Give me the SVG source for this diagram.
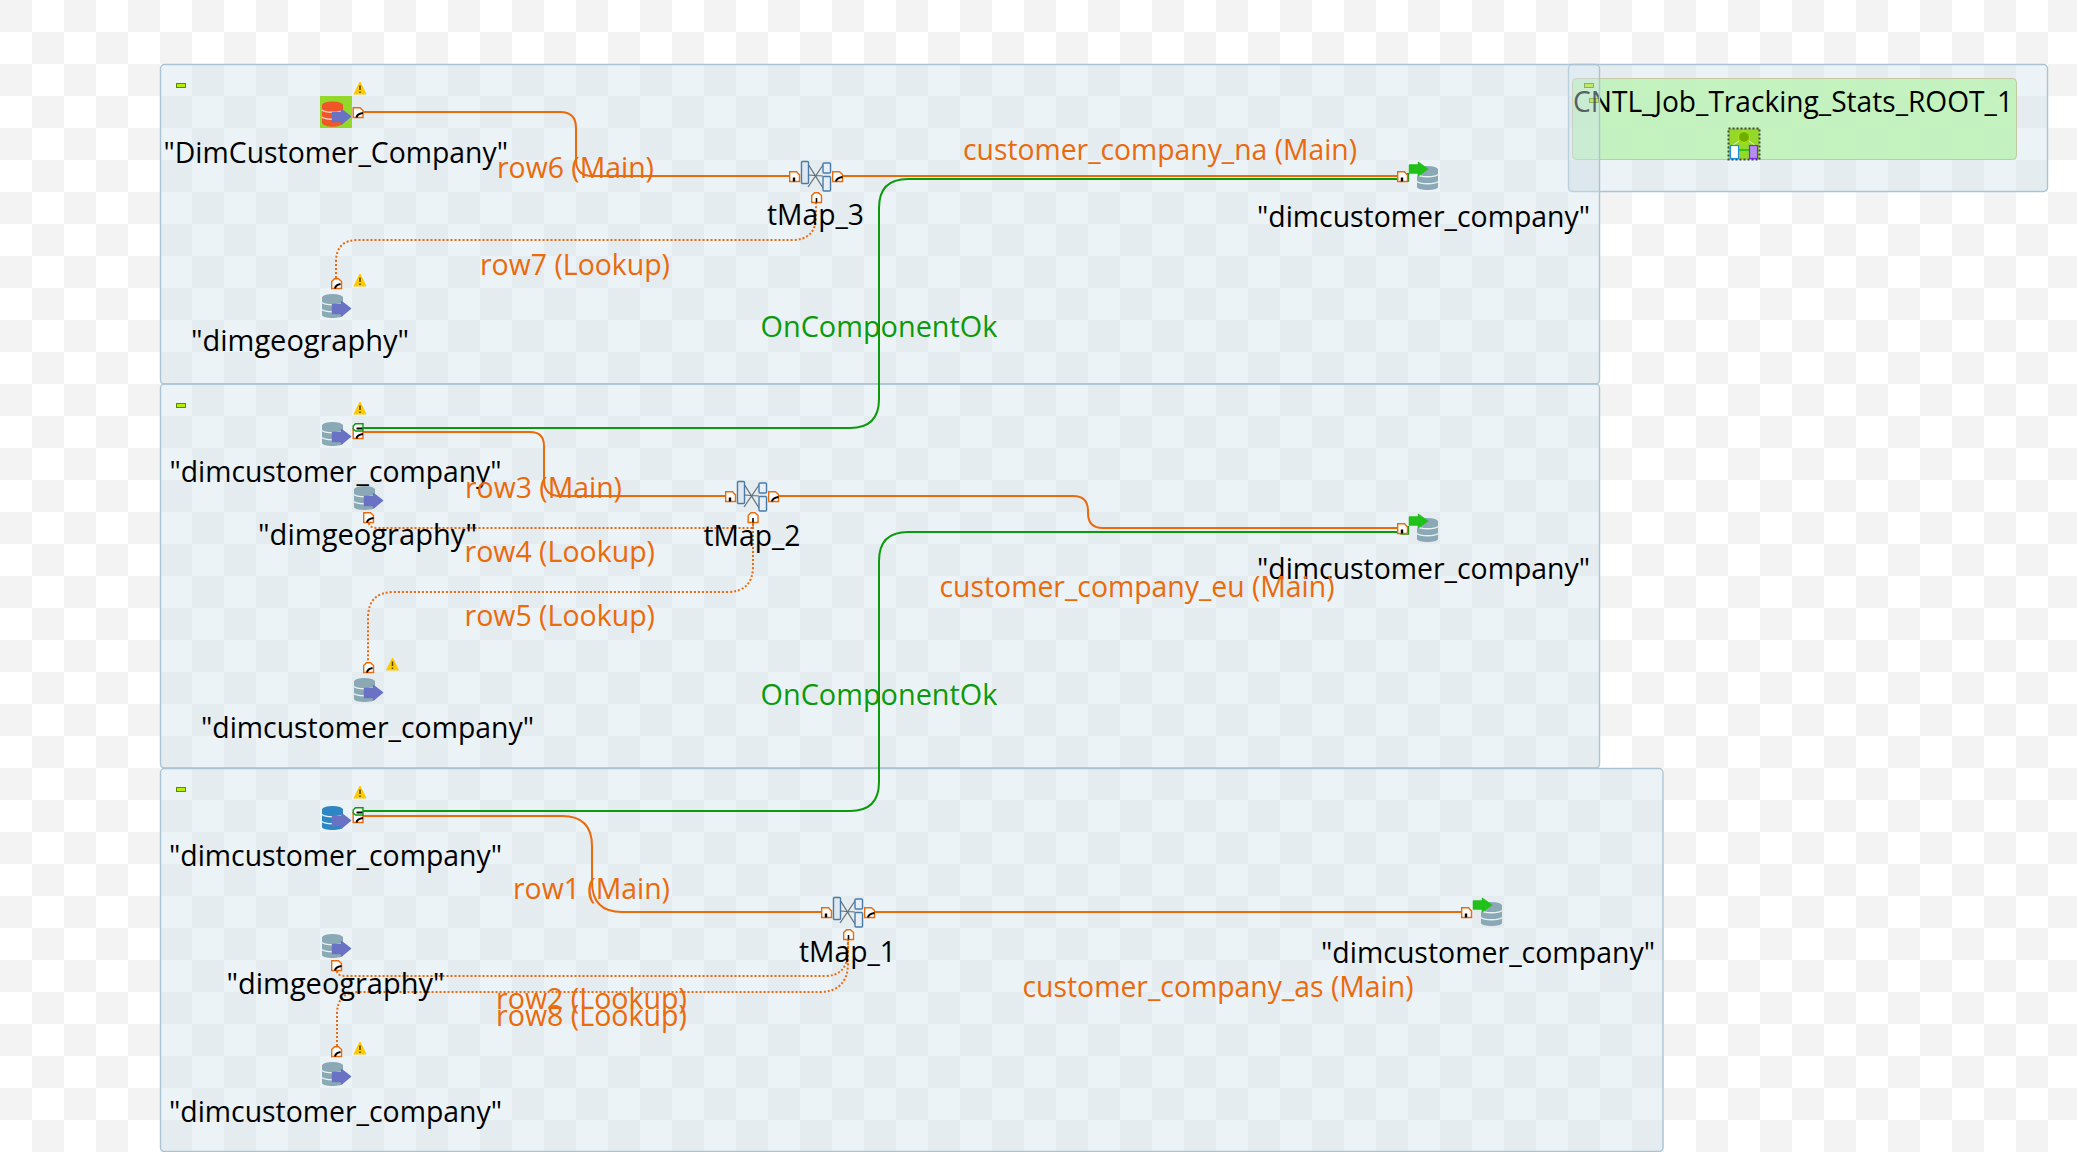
<svg xmlns="http://www.w3.org/2000/svg" width="2077" height="1152" viewBox="0 0 2077 1152">
<style>
text{font-family:"Open Sans","Noto Sans","Liberation Sans",sans-serif;font-size:30px}
.lbl{fill:#000}
.or{fill:#ea6a0c}
.gr{fill:#0b9a0b}
.panel{fill:#d2e2ec;fill-opacity:.42;stroke:#abc3d2;stroke-width:1.4}
.mini{fill:#b6ec00;stroke:#5f8a00;stroke-width:1}
.main{fill:none;stroke:#ea6a0c;stroke-width:2}
.look{fill:none;stroke:#ea6a0c;stroke-width:2;stroke-dasharray:2 2}
.ok{fill:none;stroke:#0b9a0b;stroke-width:2}
</style>
<defs>
<pattern id="chk" width="64" height="64" patternUnits="userSpaceOnUse">
<rect width="64" height="64" fill="#fff"/>
<rect width="32" height="32" fill="#f3f3f3"/>
<rect x="32" y="32" width="32" height="32" fill="#f3f3f3"/>
</pattern>
<g id="cyl">
<path d="M0 3.500C0 1 21 1 21 3.500V21C21 25 0 25 0 21Z" fill="#8ba9b5"/>
<ellipse cx="10.500" cy="3.500" rx="10.500" ry="3.500" fill="#8ba9b5"/>
<path d="M0 8.500C3 11.500 18 11.500 21 8.500M0 15.500C3 18.500 18 18.500 21 15.500" fill="none" stroke="#e8f0f3" stroke-width="1.400"/>
</g>
<g id="cylBlue">
<path d="M0 3.500C0 1 21 1 21 3.500V21C21 25 0 25 0 21Z" fill="#2f86c4"/>
<ellipse cx="10.500" cy="3.500" rx="10.500" ry="3.500" fill="#2f86c4"/>
<path d="M0 8.500C3 11.500 18 11.500 21 8.500M0 15.500C3 18.500 18 18.500 21 15.500" fill="none" stroke="#e8f0f3" stroke-width="1.400"/>
</g>
<path id="arrIn" d="M12.500 16.500H21.500V13.500L30.500 20.500L21.500 28V25.500H12.500Z" fill="#6a72c4" stroke="#6a72c4" stroke-width="1.500" stroke-linejoin="round"/>
<g id="dbIn"><use href="#cyl" x="2" y="6"/><use href="#arrIn"/></g>
<g id="dbInBlue"><use href="#cylBlue" x="2" y="6"/><use href="#arrIn"/></g>
<g id="dbOut"><use href="#cyl" x="9" y="6"/><path d="M1.500 5H10.500V2.500L19.500 9L10.500 15.500V13H1.500Z" fill="#22c01a" stroke="#22c01a" stroke-width="1.500" stroke-linejoin="round"/></g>
<g id="warn"><path d="M6 0L12 12H0Z" fill="#fdc900" stroke="#fdc900" stroke-width="1" stroke-linejoin="round"/><path d="M6 3.500V8M6 9.500V11" stroke="#5a4600" stroke-width="1.500"/></g>
<g id="portOut"><path d="M.7.700H7.500L10.500 3.500V10.500H.7Z" fill="#fff" stroke="#ea6a0c" stroke-width="1.400"/><path d="M4 10.500C4.500 7.500 6.500 6.500 10.500 6" fill="none" stroke="#000" stroke-width="2"/></g>
<g id="portUp"><path d="M.7 3.500L3.500.700H7.500L10.500 3.500V10.500H.7Z" fill="#fff" stroke="#ea6a0c" stroke-width="1.400"/><path d="M4 10.500C4.500 7.500 6.500 6.500 9.500 6" fill="none" stroke="#000" stroke-width="2"/></g>
<g id="portIn"><path d="M.7.700H7.500L10.500 4V10.500H.7Z" fill="#fff" stroke="#ea6a0c" stroke-width="1.400"/><path d="M5 10.500V6.500" fill="none" stroke="#000" stroke-width="2.400"/></g>
<g id="portLk"><path d="M.7 3.500L3.500.700H7.500L10.500 3.500V10.500H.7Z" fill="#fff" stroke="#ea6a0c" stroke-width="1.400"/><path d="M5.500 10.500V6" fill="none" stroke="#000" stroke-width="1.600"/></g>
<g id="portGr"><path d="M3 .7H10.500V8H3L.7 6V3Z" fill="#fff" stroke="#0b9a0b" stroke-width="1.400"/><path d="M4 5.500H10" stroke="#000" stroke-width="2"/></g>
<g id="tmap">
<path d="M7 3L22 27M7 14L22 15M7 26L22 4" fill="none" stroke="#5f6b75" stroke-width="1.200"/>
<rect x=".5" y=".5" width="7" height="22" rx="1" fill="#dfe8ef" stroke="#4a7ba8" stroke-width="1.400"/>
<rect x="22" y="2" width="7.500" height="10" rx="1" fill="#e8eff4" stroke="#4a7ba8" stroke-width="1.400"/>
<rect x="22" y="15.500" width="7.500" height="14.500" rx="1" fill="#e8eff4" stroke="#4a7ba8" stroke-width="1.400"/>
</g>
</defs>
<rect id="background" width="2077" height="1152" fill="url(#chk)"/>

<g id="node-cntl">
<rect class="panel" x="1568.500" y="64.500" width="479" height="127" rx="4"/>
<rect x="1572.500" y="78.500" width="444" height="81" rx="4" fill="#bdf2b6" fill-opacity=".85" stroke="#c4c9a2"/>
<rect class="mini" x="1584.500" y="83.500" width="9" height="4"/>
<rect class="mini" x="1589.500" y="98.500" width="9" height="4"/>
<text class="lbl" x="1573" y="111.500" textLength="440" lengthAdjust="spacingAndGlyphs">CNTL_Job_Tracking_Stats_ROOT_1</text>
<rect x="1728.500" y="128.500" width="31" height="31" fill="#94d82a" stroke="#444" stroke-width="2" stroke-dasharray="2 2"/>
<circle cx="1744" cy="137" r="5.500" fill="#6fae00" stroke="#b6ec00"/>
<path d="M1739 141L1732 146M1749 141L1756 146" stroke="#e8f5d0"/>
<path d="M1736 150H1752" stroke="#10c010" stroke-width="1.500"/>
<rect x="1730.500" y="145.500" width="8" height="13" fill="#fff" stroke="#1e90e0" stroke-width="1.200"/>
<rect x="1749.500" y="145.500" width="8" height="13" fill="#b58cf0" stroke="#7a2be0" stroke-width="1.200"/>
</g>

<g id="panels">
<rect class="panel" x="160.500" y="64.500" width="1439" height="319.500" rx="4"/>
<rect class="panel" x="160.500" y="384" width="1439" height="384" rx="4"/>
<rect class="panel" x="160.500" y="768.500" width="1502.500" height="383" rx="4"/>
<rect class="mini" x="176.500" y="83.500" width="9" height="4"/>
<rect class="mini" x="176.500" y="403.500" width="9" height="4"/>
<rect class="mini" x="176.500" y="787.500" width="9" height="4"/>
</g>

<g id="connectors">
<path class="main" d="M363 112H560Q576 112 576 128V160Q576 176 592 176H790"/>
<path class="main" d="M843 176H1398"/>
<path class="look" d="M336 278V262Q336 240 358 240H792Q816 240 816 216V203"/>
<path class="ok" d="M363 428H850Q879 428 879 399V208Q879 179 908 179H1398"/>
<path class="main" d="M363 432H530Q544 432 544 446V480Q544 496 560 496H726"/>
<path class="main" d="M779 496H1073Q1088 496 1088 511V513Q1088 528 1103 528H1398"/>
<path class="look" d="M369 523Q369 528 378 528H753V523"/>
<path class="look" d="M753 523V566Q753 592 727 592H394Q368 592 368 618V662"/>
<path class="ok" d="M363 811H850Q879 811 879 782V561Q879 532 908 532H1398"/>
<path class="main" d="M363 816H562Q592 816 592 846V882Q592 912 622 912H822"/>
<path class="main" d="M875 912H1462"/>
<path class="look" d="M337 971Q337 976 346 976H825Q848 976 848 950V940"/>
<path class="look" d="M337 1046V1014Q337 992 359 992H819Q848 992 848 963V940"/>
</g>

<g id="node-dimcustomer-company-src1">
<rect x="320" y="96" width="32" height="32" fill="#94d82a"/>
<g transform="translate(320 96)"><path d="M2 9V27C5 32 20 32 23 27V9Z" fill="#f0562a"/><path d="M2 14C5 17 20 17 23 14M2 21C5 24 20 24 23 21" fill="none" stroke="#f5d8c8" stroke-width="1.400"/><ellipse cx="12.500" cy="9" rx="10.500" ry="3.500" fill="#f0562a"/><use href="#arrIn"/></g>
<use href="#portOut" x="352.500" y="107"/>
<use href="#warn" x="354" y="82"/>
<text class="lbl" x="163.500" y="162.500" textLength="344.500" lengthAdjust="spacingAndGlyphs">"DimCustomer_Company"</text>
</g>
<g id="node-dimgeography-1">
<use href="#dbIn" x="320" y="288"/>
<use href="#portUp" x="331" y="278"/>
<use href="#warn" x="354" y="274"/>
<text class="lbl" x="191" y="351" textLength="218" lengthAdjust="spacingAndGlyphs">"dimgeography"</text>
</g>
<g id="node-tMap_3">
<use href="#tmap" x="801" y="161"/>
<use href="#portIn" x="789" y="171"/>
<use href="#portOut" x="832" y="171"/>
<use href="#portLk" x="811" y="192"/>
<text class="lbl" x="767" y="224.500" textLength="97" lengthAdjust="spacingAndGlyphs">tMap_3</text>
</g>
<g id="node-target-na">
<use href="#dbOut" x="1408" y="160"/>
<use href="#portGr" x="1398" y="173"/>
<use href="#portIn" x="1397" y="171"/>
<text class="lbl" x="1257" y="226.500" textLength="333" lengthAdjust="spacingAndGlyphs">"dimcustomer_company"</text>
</g>

<g id="node-source-2">
<use href="#dbIn" x="320" y="416"/>
<use href="#portOut" x="352.500" y="428"/>
<use href="#portGr" x="352.500" y="423"/>
<use href="#warn" x="354" y="402"/>
<text class="lbl" x="169.500" y="482" textLength="332" lengthAdjust="spacingAndGlyphs">"dimcustomer_company"</text>
</g>
<g id="node-dimgeography-2">
<use href="#dbIn" x="352" y="480"/>
<use href="#portOut" x="363" y="512"/>
<text class="lbl" x="258" y="545" textLength="219" lengthAdjust="spacingAndGlyphs">"dimgeography"</text>
</g>
<g id="node-lookup-2">
<use href="#dbIn" x="352" y="672"/>
<use href="#portUp" x="363" y="662"/>
<use href="#warn" x="386.500" y="658"/>
<text class="lbl" x="201" y="738" textLength="333" lengthAdjust="spacingAndGlyphs">"dimcustomer_company"</text>
</g>
<g id="node-tMap_2">
<use href="#tmap" x="737" y="481"/>
<use href="#portIn" x="725" y="491"/>
<use href="#portOut" x="768" y="491"/>
<use href="#portLk" x="747.500" y="512"/>
<text class="lbl" x="703.500" y="546" textLength="97" lengthAdjust="spacingAndGlyphs">tMap_2</text>
</g>
<g id="node-target-eu">
<use href="#dbOut" x="1408" y="512"/>
<use href="#portGr" x="1398" y="526"/>
<use href="#portIn" x="1397" y="523"/>
<text class="lbl" x="1257" y="578.500" textLength="333" lengthAdjust="spacingAndGlyphs">"dimcustomer_company"</text>
</g>

<g id="node-source-3">
<use href="#dbInBlue" x="320" y="800"/>
<use href="#portOut" x="352.500" y="812"/>
<use href="#portGr" x="352.500" y="807"/>
<use href="#warn" x="354" y="786"/>
<text class="lbl" x="169" y="866" textLength="333" lengthAdjust="spacingAndGlyphs">"dimcustomer_company"</text>
</g>
<g id="node-dimgeography-3">
<use href="#dbIn" x="320" y="928"/>
<use href="#portOut" x="331" y="960"/>
<text class="lbl" x="226.500" y="994" textLength="218" lengthAdjust="spacingAndGlyphs">"dimgeography"</text>
</g>
<g id="node-lookup-3">
<use href="#dbIn" x="320" y="1056"/>
<use href="#portUp" x="331" y="1046"/>
<use href="#warn" x="354" y="1042"/>
<text class="lbl" x="169" y="1122" textLength="333" lengthAdjust="spacingAndGlyphs">"dimcustomer_company"</text>
</g>
<g id="node-tMap_1">
<use href="#tmap" x="833" y="897"/>
<use href="#portIn" x="821" y="907"/>
<use href="#portOut" x="864" y="907"/>
<use href="#portLk" x="843" y="929"/>
<text class="lbl" x="799" y="962" textLength="97" lengthAdjust="spacingAndGlyphs">tMap_1</text>
</g>
<g id="node-target-as">
<use href="#dbOut" x="1472" y="896"/>
<use href="#portIn" x="1461" y="907"/>
<text class="lbl" x="1321" y="962.500" textLength="334" lengthAdjust="spacingAndGlyphs">"dimcustomer_company"</text>
</g>

<g id="connector-labels">
<text class="or" x="497" y="178" textLength="157" lengthAdjust="spacingAndGlyphs">row6 (Main)</text>
<text class="or" x="963" y="160" textLength="394" lengthAdjust="spacingAndGlyphs">customer_company_na (Main)</text>
<text class="or" x="480" y="274.500" textLength="190" lengthAdjust="spacingAndGlyphs">row7 (Lookup)</text>
<text class="gr" x="760.500" y="337" textLength="237" lengthAdjust="spacingAndGlyphs">OnComponentOk</text>
<text class="or" x="465" y="498" textLength="157" lengthAdjust="spacingAndGlyphs">row3 (Main)</text>
<text class="or" x="464.500" y="562" textLength="190.500" lengthAdjust="spacingAndGlyphs">row4 (Lookup)</text>
<text class="or" x="464.500" y="626" textLength="190.500" lengthAdjust="spacingAndGlyphs">row5 (Lookup)</text>
<text class="or" x="939.500" y="596.500" textLength="395" lengthAdjust="spacingAndGlyphs">customer_company_eu (Main)</text>
<text class="gr" x="760.500" y="705" textLength="237" lengthAdjust="spacingAndGlyphs">OnComponentOk</text>
<text class="or" x="513" y="898.500" textLength="157" lengthAdjust="spacingAndGlyphs">row1 (Main)</text>
<text class="or" x="496" y="1009" textLength="191" lengthAdjust="spacingAndGlyphs">row2 (Lookup)</text>
<text class="or" x="496" y="1025.500" textLength="191" lengthAdjust="spacingAndGlyphs">row8 (Lookup)</text>
<text class="or" x="1022.500" y="996.500" textLength="391" lengthAdjust="spacingAndGlyphs">customer_company_as (Main)</text>
</g>
</svg>
